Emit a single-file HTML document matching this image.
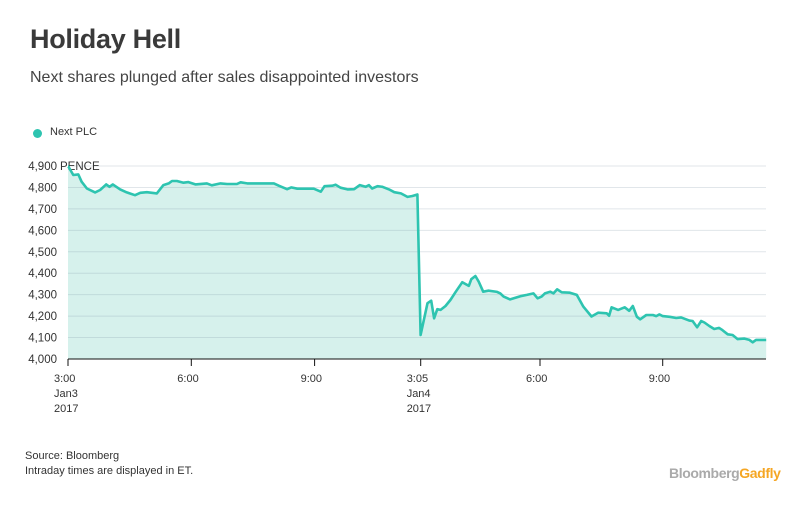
<!DOCTYPE html>
<html><head><meta charset="utf-8"><style>
body{margin:0;background:#fff;font-family:"Liberation Sans",sans-serif;}
#wrap{position:relative;width:812px;height:512px;overflow:hidden;}
.t{position:absolute;white-space:nowrap;color:#333;}
</style></head><body>
<div id="wrap">
<div class="t" style="left:30px;top:24px;font-size:27px;font-weight:bold;color:#3a3a3a;letter-spacing:-0.3px">Holiday Hell</div>
<div class="t" style="left:30px;top:69px;font-size:16px;color:#444">Next shares plunged after sales disappointed investors</div>
<div style="position:absolute;left:33px;top:129px;width:9px;height:9px;border-radius:50%;background:#2ec4b0"></div>
<div class="t" style="left:50px;top:126px;font-size:11px">Next PLC</div>
<svg id="chart" width="812" height="512" style="position:absolute;left:0;top:0"></svg>
<div class="t" style="left:25px;top:450px;font-size:11px">Source: Bloomberg</div>
<div class="t" style="left:25px;top:465px;font-size:11px">Intraday times are displayed in ET.</div>
<div class="t" style="left:669px;top:465px;font-size:14px;font-weight:bold;letter-spacing:-0.4px"><span style="color:#aaa">Bloomberg</span><span style="color:#f5a623">Gadfly</span></div>
</div>
<script>
const day1Hours=[3.01,3.13,3.25,3.33,3.46,3.66,3.78,3.93,4.01,4.09,4.27,4.43,4.63,4.76,4.92,5.16,5.32,5.45,5.53,5.65,5.81,5.93,6.10,6.38,6.50,6.71,6.87,7.11,7.20,7.36,8.01,8.13,8.33,8.43,8.58,8.98,9.15,9.24,9.43,9.51,9.63,9.80,9.96,10.10,10.24,10.32,10.40,10.53,10.65,10.81,10.94,11.10,11.26,11.38,11.50];
const day1Values=[4897,4858,4861,4827,4795,4777,4788,4814,4803,4814,4791,4777,4764,4775,4778,4772,4811,4819,4830,4830,4822,4825,4814,4819,4810,4819,4816,4816,4824,4819,4819,4808,4792,4800,4794,4794,4780,4806,4808,4813,4799,4791,4792,4811,4803,4811,4795,4806,4803,4791,4778,4772,4756,4760,4767];
const day2Hours=[3.08,3.25,3.34,3.41,3.49,3.57,3.69,3.81,3.94,4.10,4.26,4.32,4.42,4.50,4.61,4.74,4.95,5.03,5.11,5.27,5.52,5.68,5.84,5.94,6.04,6.12,6.25,6.33,6.42,6.53,6.73,6.90,7.06,7.26,7.42,7.63,7.69,7.75,7.91,8.07,8.18,8.27,8.37,8.45,8.60,8.76,8.84,8.92,9.00,9.17,9.33,9.45,9.65,9.73,9.84,9.94,10.02,10.14,10.26,10.38,10.46,10.59,10.71,10.83,11.00,11.12,11.20,11.28,11.53];
const day2Values=[4112,4260,4272,4190,4232,4229,4247,4275,4314,4358,4341,4372,4387,4361,4314,4319,4313,4306,4291,4278,4293,4299,4306,4283,4291,4306,4314,4306,4325,4311,4309,4299,4244,4198,4216,4213,4202,4241,4229,4241,4225,4247,4197,4185,4205,4205,4200,4208,4200,4197,4191,4194,4179,4177,4148,4177,4170,4154,4140,4145,4135,4115,4112,4093,4095,4089,4078,4089,4089];
const yTicks=[4000,4100,4200,4300,4400,4500,4600,4700,4800,4900];
const xTicks=[{d:1,h:3,l:["3:00","Jan3","2017"]},{d:1,h:6,l:["6:00"]},{d:1,h:9,l:["9:00"]},{d:2,h:3.083,l:["3:05","Jan4","2017"]},{d:2,h:6,l:["6:00"]},{d:2,h:9,l:["9:00"]}];

const NS="http://www.w3.org/2000/svg";
const svg=document.getElementById('chart');
const X0=68,X1=766;
function y(v){return 359-(v-4000)*(193/900);}
function x(day,h){return day===1?68+(h-3)*41.1:420.7+(h-3.083)*40.9;}
function mk(t,a){const e=document.createElementNS(NS,t);for(const k in a)e.setAttribute(k,a[k]);svg.appendChild(e);return e;}

const pts=[];
day1Hours.forEach((h,i)=>pts.push([x(1,h),y(day1Values[i])]));
day2Hours.forEach((h,i)=>pts.push([x(2,h),y(day2Values[i])]));
pts.unshift([X0,y(day1Values[0])]);
const last=pts[pts.length-1];
if(last[0]<X1)pts.push([X1,last[1]]);
const lineD="M"+pts.map(p=>p[0].toFixed(1)+","+p[1].toFixed(1)).join("L");

const area=mk('path',{d:lineD+"L"+pts[pts.length-1][0]+",359L"+X0+",359Z",fill:"#d6f1ec"});



yTicks.forEach(v=>{
  if(v>4000){
    const g=mk('line',{x1:X0,x2:X1,y1:y(v),y2:y(v),stroke:"rgba(120,140,160,0.22)","stroke-width":1});
    
    
  }
  const t=mk('text',{x:57,y:y(v)+4,"text-anchor":"end","font-size":11.5,fill:"#333","font-family":"Liberation Sans, sans-serif"});
  t.textContent=v.toLocaleString('en-US');
  
  
});
const unit=mk('text',{x:60,y:y(4900)+4,"font-size":11.5,fill:"#333","font-family":"Liberation Sans, sans-serif"});
unit.textContent="PENCE";



const line=mk('path',{d:lineD,fill:"none",stroke:"#2ec4b0","stroke-width":2.6,"stroke-linejoin":"round"});



const ax=mk('line',{x1:X0,x2:X1,y1:359,y2:359,stroke:"#111","stroke-width":1});


xTicks.forEach(tk=>{
  const xx=x(tk.d,tk.h);
  const l=mk('line',{x1:xx,x2:xx,y1:359,y2:366,stroke:"#111","stroke-width":1});
  
  
  tk.l.forEach((s,i)=>{
    const t=mk('text',{x:xx-14,y:382+i*15,"font-size":11,fill:"#333","font-family":"Liberation Sans, sans-serif"});
    t.textContent=s;
    
    
  });
});
</script>
</body></html>
